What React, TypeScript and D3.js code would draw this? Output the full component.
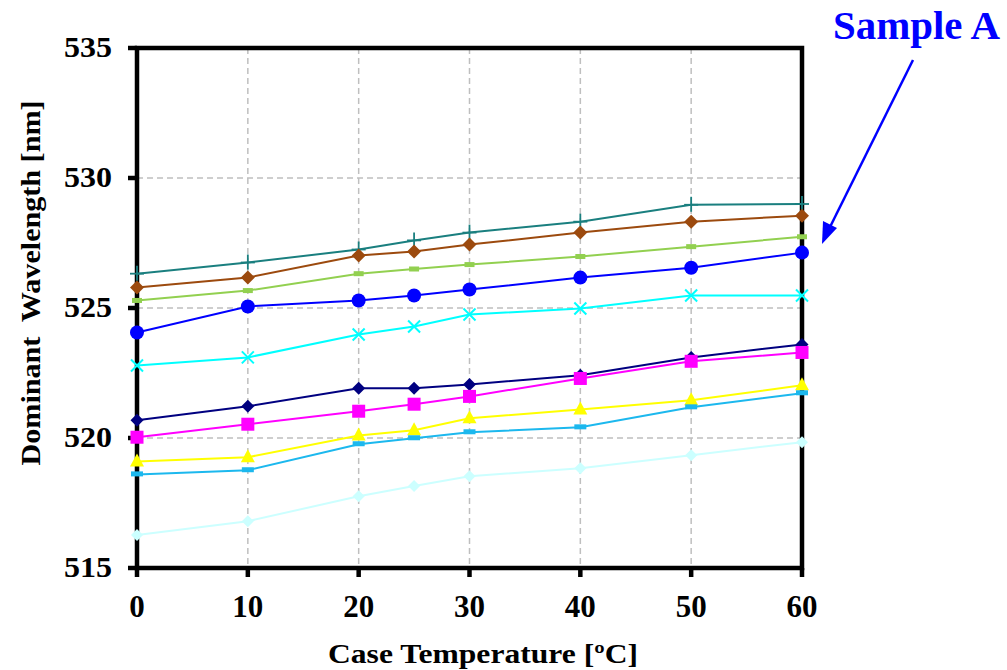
import React from "react";
import * as d3 from "d3";

const temps = [0, 10, 20, 25, 30, 40, 50, 60];
const xTicks = [0, 10, 20, 30, 40, 50, 60];
const yTicks = [515, 520, 525, 530, 535];

const s1 = [526.32, 526.75, 527.25, 527.6, 527.9, 528.32, 528.97, 529.0];
const s2 = [525.79, 526.17, 527.02, 527.17, 527.44, 527.9, 528.32, 528.55];
const s3 = [525.29, 525.67, 526.32, 526.5, 526.67, 526.98, 527.36, 527.74];
const s4 = [524.06, 525.06, 525.29, 525.48, 525.71, 526.17, 526.55, 527.13];
const s5 = [522.79, 523.1, 523.98, 524.29, 524.75, 524.98, 525.48, 525.48];
const s6 = [520.68, 521.22, 521.91, 521.91, 522.06, 522.41, 523.1, 523.6];
const s7 = [520.03, 520.53, 521.03, 521.3, 521.6, 522.29, 522.95, 523.29];
const s8 = [519.1, 519.26, 520.1, 520.3, 520.76, 521.1, 521.45, 522.03];
const s9 = [518.6, 518.76, 519.76, 519.99, 520.22, 520.41, 521.18, 521.72];
const s10 = [516.27, 516.8, 517.76, 518.15, 518.53, 518.84, 519.34, 519.84];

const seriesList = [
  { values: s1, color: "#1A7F7F", marker: "plus" },
  { values: s2, color: "#9C4A0E", marker: "diamond" },
  { values: s3, color: "#92D050", marker: "dash" },
  { values: s4, color: "#0000FF", marker: "circle" },
  { values: s5, color: "#00FFFF", marker: "x" },
  { values: s6, color: "#000080", marker: "diamondSmall" },
  { values: s7, color: "#FF00FF", marker: "square" },
  { values: s8, color: "#FFFF00", marker: "triangle" },
  { values: s9, color: "#1CB8EE", marker: "dashBig" },
  { values: s10, color: "#CCFFFF", marker: "diamondPale" },
];

const L = 137, R = 802, T = 48, B = 568;

function Marker({ kind, x, y, color }: { kind: string; x: number; y: number; color: string }) {
  switch (kind) {
    case "plus":
      return (
        <g stroke={color} strokeWidth={1.8}>
          <line x1={x - 7} x2={x + 7} y1={y} y2={y} />
          <line x1={x} x2={x} y1={y - 8} y2={y + 7} />
        </g>
      );
    case "diamond":
      return <path d={`M${x},${y - 7}L${x + 7},${y}L${x},${y + 7}L${x - 7},${y}Z`} fill={color} />;
    case "diamondSmall":
      return <path d={`M${x},${y - 6.5}L${x + 6.5},${y}L${x},${y + 6.5}L${x - 6.5},${y}Z`} fill={color} />;
    case "diamondPale":
      return <path d={`M${x},${y - 6}L${x + 6},${y}L${x},${y + 6}L${x - 6},${y}Z`} fill={color} />;
    case "dash":
      return <rect x={x - 5} y={y - 2.5} width={10} height={5} fill={color} />;
    case "dashBig":
      return <rect x={x - 6} y={y - 3} width={12} height={5} fill={color} />;
    case "circle":
      return <circle cx={x} cy={y} r={7} fill={color} />;
    case "x":
      return (
        <g stroke={color} strokeWidth={2}>
          <line x1={x - 6} x2={x + 6} y1={y - 6} y2={y + 6} />
          <line x1={x - 6} x2={x + 6} y1={y + 6} y2={y - 6} />
        </g>
      );
    case "square":
      return <rect x={x - 6.5} y={y - 6.5} width={13} height={13} fill={color} />;
    case "triangle":
      return <path d={`M${x},${y - 8}L${x + 7},${y + 5}L${x - 7},${y + 5}Z`} fill={color} />;
    default:
      return null;
  }
}

export default function App() {
  const x = d3.scaleLinear().domain([0, 60]).range([L, R]);
  const y = d3.scaleLinear().domain([515, 535]).range([B, T]);
  const line = d3
    .line<number>()
    .x((_, i) => x(temps[i]))
    .y((d) => y(d));
  const font = "'Liberation Serif', 'Times New Roman', serif";

  return (
    <svg
      width={1007}
      height={670}
      style={{ position: "fixed", left: 0, top: 0, background: "#fff" }}
      fontFamily={font}
      fontWeight="bold"
    >
      <rect x={0} y={0} width={1007} height={670} fill="#fff" />
      {/* grid */}
      {xTicks.slice(1, -1).map((t) => (
        <line key={"gx" + t} x1={x(t)} x2={x(t)} y1={T} y2={B} stroke="#BFBFBF" strokeWidth={1.5} strokeDasharray="6,4" />
      ))}
      {yTicks.slice(1, -1).map((t) => (
        <line key={"gy" + t} x1={L} x2={R} y1={y(t)} y2={y(t)} stroke="#BFBFBF" strokeWidth={1.5} strokeDasharray="6,4" />
      ))}
      {/* frame */}
      <rect x={L} y={T} width={R - L} height={B - T} fill="none" stroke="#000" strokeWidth={4.5} />
      {/* ticks */}
      {yTicks.map((t) => (
        <line key={"ty" + t} x1={L - 9} x2={L} y1={y(t)} y2={y(t)} stroke="#000" strokeWidth={4.5} />
      ))}
      {xTicks.map((t) => (
        <line key={"tx" + t} x1={x(t)} x2={x(t)} y1={B} y2={B + 9} stroke="#000" strokeWidth={4.5} />
      ))}
      {/* tick labels */}
      {yTicks.map((t) => (
        <text key={"ly" + t} x={112} y={y(t) + 9} textAnchor="end" fontSize={30}
          textLength={48} lengthAdjust="spacingAndGlyphs">
          {t}
        </text>
      ))}
      {xTicks.map((t) => (
        <text key={"lx" + t} x={x(t)} y={617} textAnchor="middle" fontSize={31}>
          {t}
        </text>
      ))}
      {/* axis titles */}
      <text x={483} y={663} textAnchor="middle" fontSize={27} textLength={310} lengthAdjust="spacingAndGlyphs">
        Case Temperature  [ºC]
      </text>
      <text transform={`translate(40,283) rotate(-90)`} textAnchor="middle" fontSize={27}
        textLength={365} lengthAdjust="spacingAndGlyphs" style={{ whiteSpace: "pre" }}>
        Dominant  Wavelength [nm]
      </text>
      {/* series */}
      {seriesList.map((s, si) => (
        <g key={"s" + si}>
          <path d={line(s.values) || ""} fill="none" stroke={s.color} strokeWidth={2} />
          {s.values.map((v, i) => (
            <Marker key={i} kind={s.marker} x={x(temps[i])} y={y(v)} color={s.color} />
          ))}
        </g>
      ))}
      {/* annotation */}
      <text x={1000} y={39} textAnchor="end" fontSize={40} fill="#0000FF" textLength={167} lengthAdjust="spacingAndGlyphs">
        Sample A
      </text>
      <line x1={913} y1={60} x2={830} y2={227} stroke="#0000FF" strokeWidth={2.5} />
      <path d="M822,244 L823,221 L837,228 Z" fill="#0000FF" />
    </svg>
  );
}
